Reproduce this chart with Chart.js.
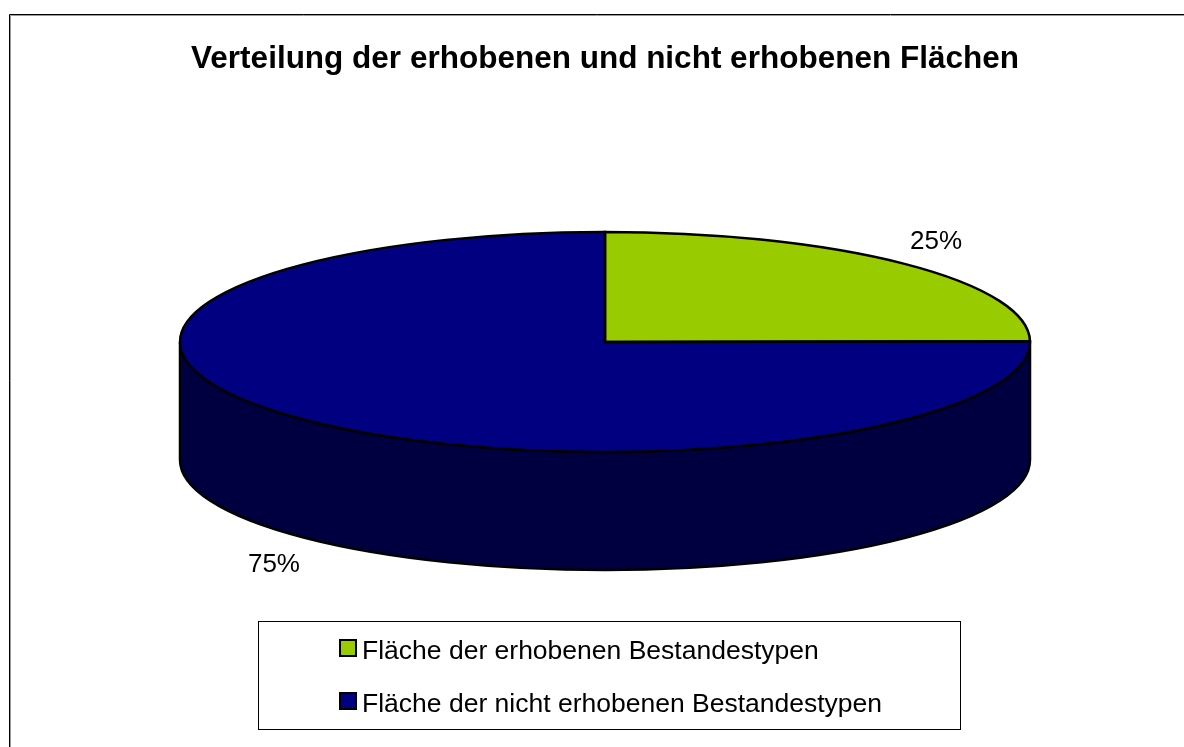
<!DOCTYPE html>
<html>
<head>
<meta charset="utf-8">
<title>Verteilung der erhobenen und nicht erhobenen Flächen</title>
<script src="https://cdn.jsdelivr.net/npm/chart.js@4"></script>
<style>
  html, body { margin: 0; padding: 0; background: #fff; overflow: hidden; }
  canvas { display: block; }
</style>
</head>
<body>
<canvas id="chart" width="1184" height="747"></canvas>
<script>
var categories = ['Fläche der erhobenen Bestandestypen', 'Fläche der nicht erhobenen Bestandestypen'];
var values = [24.9, 75.1];
var topColors = ['#99cc00', '#000080'];
var sideColors = ['#4d6600', '#000040'];
var chartTitle = 'Verteilung der erhobenen und nicht erhobenen Flächen';

var fontName = '"Liberation Sans", Arial, sans-serif';
var squash = 110 / 425;
var depth = 118;

// the pie is squashed into an ellipse while the datasets are drawn
var pie3d = {
  id: 'pie3d',
  beforeDraw: function(chart) {
    var ctx = chart.ctx;
    ctx.save();
    ctx.strokeStyle = '#000';
    ctx.lineWidth = 1;
    ctx.beginPath();
    ctx.moveTo(9.5, 747);
    ctx.lineTo(9.5, 14.5);
    ctx.lineTo(1184, 14.5);
    ctx.stroke();
    ctx.strokeStyle = '#999';
    ctx.beginPath();
    ctx.moveTo(10.5, 747);
    ctx.lineTo(10.5, 15.5);
    ctx.lineTo(1184, 15.5);
    ctx.stroke();
    ctx.restore();
  },
  beforeDatasetsDraw: function(chart) {
    var ctx = chart.ctx;
    var arcs = chart.getDatasetMeta(0).data;

    arcs.forEach(function(arc, i) {
      var from = Math.max(arc.startAngle, 0);
      var to = Math.min(arc.endAngle, Math.PI);
      if (to <= from) return;
      var rx = arc.outerRadius;
      var ry = rx * squash;
      ctx.beginPath();
      ctx.ellipse(arc.x, arc.y, rx, ry, 0, from, to);
      ctx.ellipse(arc.x, arc.y + depth, rx, ry, 0, to, from, true);
      ctx.closePath();
      ctx.fillStyle = sideColors[i];
      ctx.strokeStyle = '#000';
      ctx.lineWidth = 2.5;
      ctx.fill();
      ctx.stroke();
    });

    ctx.save();
    var c = arcs[0];
    ctx.translate(c.x, c.y);
    ctx.scale(1, squash);
    ctx.translate(-c.x, -c.y);
  },
  afterDatasetsDraw: function(chart) {
    var ctx = chart.ctx;
    ctx.restore();

    var arcs = chart.getDatasetMeta(0).data;
    arcs.forEach(function(arc) {
      var rx = arc.outerRadius;
      var ry = rx * squash;
      ctx.beginPath();
      ctx.moveTo(arc.x, arc.y);
      ctx.ellipse(arc.x, arc.y, rx, ry, 0, arc.startAngle, arc.endAngle);
      ctx.closePath();
      ctx.strokeStyle = '#000';
      ctx.lineWidth = 2.5;
      ctx.stroke();
    });

    // percent labels
    var total = values[0] + values[1];
    ctx.font = '26px ' + fontName;
    ctx.fillStyle = '#000';
    ctx.textAlign = 'center';
    ctx.textBaseline = 'middle';
    arcs.forEach(function(arc, i) {
      var mid = (arc.startAngle + arc.endAngle) / 2;
      var x = arc.x + Math.cos(mid) * arc.outerRadius * 1.105;
      var y = arc.y + Math.sin(mid) * arc.outerRadius * squash * 1.31 + 2;
      if (Math.sin(mid) > 0) y += depth + 1;
      ctx.fillText(Math.round(values[i] / total * 100) + '%', x, y);
    });

    // legend box
    ctx.strokeStyle = '#000';
    ctx.lineWidth = 1;
    ctx.strokeRect(258.5, 621.5, 702, 108);
    ctx.textAlign = 'left';
    ctx.font = '26.5px ' + fontName;
    categories.forEach(function(name, i) {
      var top = 640 + i * 53;
      ctx.fillStyle = topColors[i];
      ctx.fillRect(340, top, 16, 16);
      ctx.strokeStyle = '#000';
      ctx.lineWidth = 2;
      ctx.strokeRect(340, top, 16, 16);
      ctx.fillStyle = '#000';
      ctx.fillText(name, 362, top + 12);
    });
  }
};

var chart = new Chart(document.getElementById('chart').getContext('2d'), {
  type: 'pie',
  data: {
    labels: categories,
    datasets: [{
      data: values,
      backgroundColor: topColors,
      borderWidth: 0,
      radius: 425,
      clip: false
    }]
  },
  options: {
    responsive: false,
    animation: false,
    layout: { padding: { left: 26, bottom: 163 } },
    plugins: {
      legend: { display: false },
      tooltip: { enabled: false },
      title: {
        display: true,
        text: chartTitle,
        color: '#000',
        font: { family: fontName, size: 31.5, weight: 'bold' },
        padding: { top: 40, bottom: 22 }
      }
    }
  },
  plugins: [pie3d]
});
</script>
</body>
</html>
